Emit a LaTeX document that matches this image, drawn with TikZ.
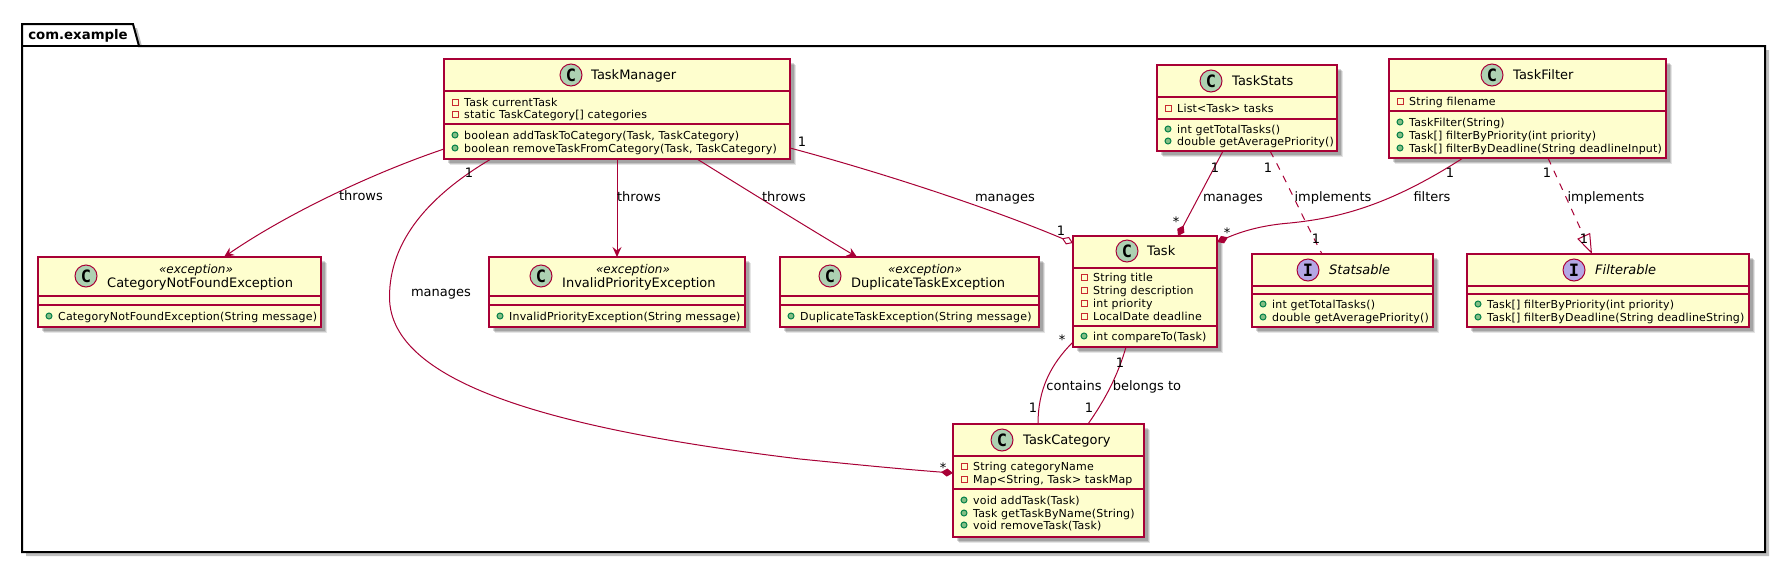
\documentclass[tikz,border=0pt]{standalone}
\usepackage{fontspec}
\setmainfont{DejaVu Sans}
\newfontfamily\glyphfont{DejaVu Sans Mono}
\newfontfamily\memberfont[LetterSpace=1.7]{DejaVu Sans}
\usetikzlibrary{arrows.meta,shadows}
\definecolor{umlfill}{HTML}{FEFECE}
\definecolor{umlline}{HTML}{A80036}
\definecolor{cspot}{HTML}{ADD1B2}
\definecolor{ispot}{HTML}{B4A7E5}
\definecolor{privline}{HTML}{C82930}
\definecolor{pubfill}{HTML}{84BE84}
\definecolor{publine}{HTML}{038048}
\newcount\itemcount
\newcommand{\nextitem}{\global\advance\itemcount by 1 }
\tikzset{
  softshadow/.style={
    general shadow={shadow xshift=6pt,shadow yshift=-6pt,fill=black,opacity=.10},
    general shadow={shadow xshift=5pt,shadow yshift=-5pt,fill=black,opacity=.14},
    general shadow={shadow xshift=4pt,shadow yshift=-4pt,fill=black,opacity=.16}},
  classbox/.style={draw=umlline,fill=umlfill,line width=1.5pt,inner sep=0pt,outer sep=0pt,anchor=north west,rectangle,softshadow},
  divider/.style={draw=umlline,line width=1.5pt},
  spot/.style={circle,draw=umlline,line width=1pt,inner sep=0pt,minimum size=22pt,text=black},
  titletext/.style={inner sep=0pt,anchor=base west,font=\fontsize{13}{15}\selectfont},
  stereotext/.style={inner sep=0pt,anchor=base,font=\fontsize{12}{14}\selectfont\itshape},
  membertext/.style={inner sep=0pt,anchor=base west,font=\memberfont\fontsize{11}{13}\selectfont},
  privmark/.style={draw=privline,fill=none,line width=1pt},
  pubmark/.style={draw=publine,fill=pubfill,line width=1pt},
  lbl/.style={inner sep=0pt,anchor=base,text=black,font=\fontsize{13}{15}\selectfont},
  conn/.style={draw=umlline,line width=1pt},
  dep/.style={conn,dash pattern=on 7pt off 7pt},
  arrowtip/.style={-{Stealth[length=10pt,width=9pt,inset=3.5pt,fill=umlline]}},
  comptip/.style={-{Diamond[length=12pt,width=8pt,fill=umlline]}},
  aggtip/.style={-{Diamond[open,length=12pt,width=8pt,fill=white]}},
  realtip/.style={-{Triangle[open,length=20pt,width=14pt,fill=white]}}
}
% name, x, y, w, h, header height, divider offset
\newcommand{\umlclass}[7]{%
  \node[classbox,minimum width=#4pt,minimum height=#5pt] (#1) at (#2,#3) {};
  \draw[divider] ([shift={(0,#6)}]#1.north west) -- ([shift={(#4,#6)}]#1.north west);
  \draw[divider] ([shift={(0,#7)}]#1.north west) -- ([shift={(#4,#7)}]#1.north west);
}
% spot kind: name, x, y, letter, colour
\newcommand{\umlspot}[5]{%
  \node[spot,fill=#5,font=\glyphfont\bfseries\fontsize{17}{17}\selectfont] (#1-spot) at (#2,#3) {#4};
}
\newcommand{\umltitle}[4]{\node[titletext] (#1-title) at (#2,#3) {#4};}
\newcommand{\umlstereo}[3]{\node[stereotext] (#1-stereo) at (#2,#3) {«exception»};}
\newcommand{\priv}[3]{% x y text ; x = marker centre, y = marker centre
  \nextitem
  \draw[privmark] (#1-3,#2-3) rectangle (#1+3,#2+3);
  \node[membertext] (m\the\itemcount) at (#1+9,#2+4) {#3};
}
\newcommand{\pub}[3]{%
  \nextitem
  \fill[pubmark] (#1,#2) circle (3pt);
  \node[membertext] (m\the\itemcount) at (#1+9,#2+4) {#3};
}
\newcommand{\lab}[4]{\node[lbl] (#1) at (#2,#3) {#4};}
\begin{document}
\begin{tikzpicture}[x=1pt,y=-1pt]
\useasboundingbox (0,0) rectangle (1786,563);
% package
\draw[draw=black,fill=white,line width=2pt,general shadow={shadow xshift=4pt,shadow yshift=-4pt,fill=black,opacity=.25}]
  (22,46) -- (22,24) -- (133,24) -- (139,46) -- (1765,46) -- (1765,552) -- (22,552) -- cycle;
\draw[draw=black,line width=1.5pt] (22,46) -- (139,46);
\node[inner sep=0pt,anchor=base,font=\fontsize{13.3}{16}\selectfont\bfseries] (pkg) at (78,39) {com.example};

% classes
\umlclass{TM}{444}{59}{346}{100}{32}{65}
\umlspot{TM}{571}{75}{C}{cspot}
\umltitle{TM}{591}{79}{TaskManager}
\priv{455}{102}{Task currentTask}
\priv{455}{114}{static TaskCategory[] categories}
\pub{455}{135}{boolean addTaskToCategory(Task, TaskCategory)}
\pub{455}{148}{boolean removeTaskFromCategory(Task, TaskCategory)}

\umlclass{TS}{1157}{65}{180}{86}{32}{54}
\umlspot{TS}{1211}{81}{C}{cspot}
\umltitle{TS}{1232}{85}{TaskStats}
\priv{1168}{108}{List<Task> tasks}
\pub{1168}{129}{int getTotalTasks()}
\pub{1168}{141}{double getAveragePriority()}

\umlclass{TF}{1389}{59}{277}{99}{32}{52}
\umlspot{TF}{1492}{75}{C}{cspot}
\umltitle{TF}{1513}{79}{TaskFilter}
\priv{1400}{101}{String filename}
\pub{1400}{122}{TaskFilter(String)}
\pub{1400}{135}{Task[] filterByPriority(int priority)}
\pub{1400}{148}{Task[] filterByDeadline(String deadlineInput)}

\umlclass{CNF}{38}{257}{283}{70}{39}{48}
\umlspot{CNF}{86}{276}{C}{cspot}
\umlstereo{CNF}{196}{273}
\umltitle{CNF}{107}{287}{CategoryNotFoundException}
\pub{49}{316}{CategoryNotFoundException(String message)}

\umlclass{IP}{489}{257}{256}{70}{39}{48}
\umlspot{IP}{541}{276}{C}{cspot}
\umlstereo{IP}{633}{273}
\umltitle{IP}{562}{287}{InvalidPriorityException}
\pub{500}{316}{InvalidPriorityException(String message)}

\umlclass{DT}{780}{257}{259}{70}{39}{48}
\umlspot{DT}{830}{276}{C}{cspot}
\umlstereo{DT}{925}{273}
\umltitle{DT}{851}{287}{DuplicateTaskException}
\pub{791}{316}{DuplicateTaskException(String message)}

\umlclass{T}{1073}{236}{144}{111}{32}{90}
\umlspot{T}{1127}{251}{C}{cspot}
\umltitle{T}{1147}{255}{Task}
\priv{1084}{277}{String title}
\priv{1084}{290}{String description}
\priv{1084}{303}{int priority}
\priv{1084}{316}{LocalDate deadline}
\pub{1084}{336}{int compareTo(Task)}

\umlclass{SA}{1252}{254}{181}{73}{32}{40}
\umlspot{SA}{1308}{270}{I}{ispot}
\node[titletext,font=\fontsize{13}{15}\selectfont\itshape] (SA-title) at (1329,274) {Statsable};
\pub{1263}{304}{int getTotalTasks()}
\pub{1263}{317}{double getAveragePriority()}

\umlclass{FA}{1467}{254}{282}{73}{32}{40}
\umlspot{FA}{1574}{270}{I}{ispot}
\node[titletext,font=\fontsize{13}{15}\selectfont\itshape] (FA-title) at (1595,274) {Filterable};
\pub{1478}{304}{Task[] filterByPriority(int priority)}
\pub{1478}{317}{Task[] filterByDeadline(String deadlineString)}

\umlclass{TC}{953}{424}{191}{113}{32}{65}
\umlspot{TC}{1002}{440}{C}{cspot}
\umltitle{TC}{1023}{444}{TaskCategory}
\priv{964}{466}{String categoryName}
\priv{964}{479}{Map<String, Task> taskMap}
\pub{964}{500}{void addTask(Task)}
\pub{964}{513}{Task getTaskByName(String)}
\pub{964}{525}{void removeTask(Task)}

% connectors
\draw[conn,arrowtip] ([shift={(0,90)}]TM.north west) .. controls (370,174) and (285,215) .. ([shift={(186,0)}]CNF.north west);
\draw[conn,arrowtip] ([shift={(173,100)}]TM.north west) -- ([shift={(128,0)}]IP.north west);
\draw[conn,arrowtip] ([shift={(253,100)}]TM.north west) .. controls (750,192) and (810,229) .. ([shift={(77,0)}]DT.north west);
\draw[conn,aggtip] ([shift={(346,89)}]TM.north west) .. controls (880,172) and (990,208) .. ([shift={(0,7)}]T.north west);
\draw[conn,comptip] ([shift={(47,100)}]TM.north west) .. controls (430,195) and (389.5,240) .. (389.5,297)
  .. controls (389.5,385) and (560,430) .. (800,459) .. controls (850,464) and (900,469) .. ([shift={(0,49)}]TC.north west);
\draw[conn,comptip] ([shift={(66,86)}]TS.north west) -- ([shift={(105,0)}]T.north west);
\draw[dep] ([shift={(113,86)}]TS.north west) .. controls (1285,178) and (1305,222) .. ([shift={(70,0)}]SA.north west);
\draw[conn,comptip] ([shift={(74,99)}]TF.north west) .. controls (1390,205) and (1340,218) .. (1290,223) .. controls (1265,225) and (1245,230) .. ([shift={(144,6)}]T.north west);
\draw[dep,realtip] ([shift={(159,99)}]TF.north west) -- ([shift={(125,0)}]FA.north west);
\draw[conn] ([shift={(0,106)}]T.north west) .. controls (1050,365) and (1038,390) .. ([shift={(85,0)}]TC.north west);
\draw[conn] ([shift={(53,111)}]T.north west) .. controls (1118,375) and (1105,400) .. ([shift={(135,0)}]TC.north west);

% labels
\lab{l1}{361}{200}{throws}
\lab{l2}{639}{201}{throws}
\lab{l3}{784}{201}{throws}
\lab{l4}{1005}{201}{manages}
\lab{l5}{802}{146}{1}
\lab{l6}{1061}{235}{1}
\lab{l7}{469}{177}{1}
\lab{l8}{441}{296}{manages}
\lab{l9}{943}{472}{*}
\lab{l10}{1215}{172}{1}
\lab{l11}{1233}{201}{manages}
\lab{l12}{1176}{226}{*}
\lab{l13}{1268}{172}{1}
\lab{l14}{1333}{201}{implements}
\lab{l15}{1316}{243}{1}
\lab{l16}{1450}{177}{1}
\lab{l17}{1432}{201}{filters}
\lab{l18}{1227}{237}{*}
\lab{l19}{1547}{177}{1}
\lab{l20}{1606}{201}{implements}
\lab{l21}{1584}{243}{1}
\lab{l22}{1062}{344}{*}
\lab{l23}{1033}{412}{1}
\lab{l24}{1074}{390}{contains}
\lab{l25}{1120}{367}{1}
\lab{l26}{1089}{412}{1}
\lab{l27}{1147}{390}{belongs to}
\end{tikzpicture}
\end{document}
